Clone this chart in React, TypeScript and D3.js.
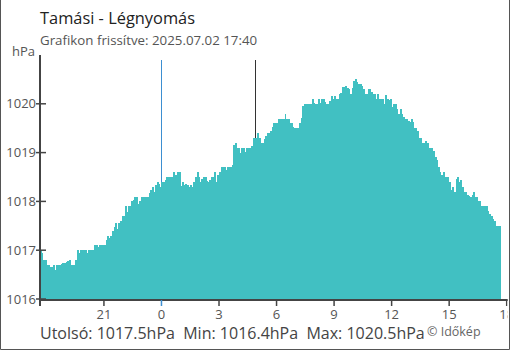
import React from "react";
import * as d3 from "d3";

const WIDTH = 510;
const HEIGHT = 350;
const MARGIN = { left: 40, top: 55, right: 3.3, bottom: 51 };
const FONT = "'Open Sans', sans-serif";
const BAR_COLOR = "#41c0c2";

// 5-minute readings from 2025-07-01 17:40 to 2025-07-02 17:35
const START = "2025-07-01T17:40:00";
const END = "2025-07-02T18:00:00";
const STEP_MINUTES = 5;

const pressure = [
  1017.0, 1016.94, 1016.8, 1016.8, 1016.7, 1016.7, 1016.66, 1016.66, 1016.7, 1016.59, 1016.7, 1016.7,
  1016.7, 1016.72, 1016.74, 1016.74, 1016.76, 1016.78, 1016.8, 1016.7, 1016.7, 1016.7, 1016.8, 1017.0,
  1016.94, 1017.0, 1017.0, 1017.0, 1017.0, 1016.94, 1017.0, 1017.0, 1017.0, 1017.0, 1017.11, 1017.11,
  1017.07, 1017.11, 1017.11, 1017.11, 1017.11, 1017.21, 1017.29, 1017.26, 1017.29, 1017.39, 1017.48, 1017.56,
  1017.43, 1017.55, 1017.6, 1017.7, 1017.7, 1017.91, 1017.78, 1017.91, 1017.91, 1018.01, 1018.03, 1018.09,
  1018.09, 1017.95, 1018.01, 1018.09, 1018.09, 1018.09, 1018.09, 1018.09, 1018.17, 1018.23, 1018.3, 1018.19,
  1018.33, 1018.4, 1018.36, 1018.3, 1018.4, 1018.4, 1018.44, 1018.5, 1018.5, 1018.5, 1018.5, 1018.6,
  1018.54, 1018.54, 1018.6, 1018.6, 1018.32, 1018.4, 1018.34, 1018.36, 1018.34, 1018.3, 1018.34, 1018.3,
  1018.4, 1018.5, 1018.6, 1018.5, 1018.4, 1018.46, 1018.5, 1018.5, 1018.42, 1018.4, 1018.44, 1018.5,
  1018.5, 1018.6, 1018.4, 1018.54, 1018.6, 1018.7, 1018.7, 1018.7, 1018.64, 1018.7, 1018.7, 1018.7,
  1018.75, 1019.16, 1019.2, 1019.09, 1019.09, 1018.99, 1019.09, 1019.09, 1019.01, 1019.09, 1019.09, 1019.09,
  1019.14, 1019.3, 1019.3, 1019.3, 1019.4, 1019.3, 1019.2, 1019.2, 1019.28, 1019.34, 1019.4, 1019.4,
  1019.44, 1019.52, 1019.61, 1019.61, 1019.61, 1019.69, 1019.69, 1019.69, 1019.69, 1019.79, 1019.69, 1019.69,
  1019.61, 1019.61, 1019.52, 1019.5, 1019.5, 1019.5, 1019.61, 1019.71, 1019.95, 1020.0, 1020.0, 1020.0,
  1020.0, 1020.0, 1020.1, 1020.02, 1020.0, 1020.0, 1020.1, 1020.02, 1020.1, 1020.1, 1020.04, 1020.0,
  1020.0, 1020.06, 1020.16, 1020.1, 1020.16, 1020.1, 1020.1, 1020.2, 1020.22, 1020.34, 1020.34, 1020.36,
  1020.32, 1020.3, 1020.2, 1020.32, 1020.47, 1020.51, 1020.45, 1020.41, 1020.41, 1020.36, 1020.3, 1020.2,
  1020.2, 1020.3, 1020.3, 1020.24, 1020.2, 1020.2, 1020.1, 1020.2, 1020.1, 1020.1, 1020.1, 1020.0,
  1020.18, 1020.1, 1020.08, 1020.1, 1019.93, 1020.0, 1020.0, 1019.89, 1019.79, 1019.89, 1019.79, 1019.73,
  1019.69, 1019.69, 1019.65, 1019.63, 1019.69, 1019.63, 1019.5, 1019.5, 1019.44, 1019.3, 1019.3, 1019.2,
  1019.2, 1019.24, 1019.2, 1019.09, 1019.09, 1019.09, 1019.03, 1018.91, 1018.85, 1018.7, 1018.6, 1018.54,
  1018.6, 1018.5, 1018.5, 1018.5, 1018.4, 1018.23, 1018.3, 1018.19, 1018.46, 1018.5, 1018.4, 1018.44,
  1018.3, 1018.19, 1018.19, 1018.13, 1018.11, 1018.09, 1018.13, 1018.19, 1018.09, 1018.09, 1018.01, 1018.01,
  1017.91, 1017.91, 1017.91, 1017.91, 1017.8, 1017.74, 1017.7, 1017.64, 1017.6, 1017.5, 1017.5, 1017.5,
];

const yTicks = [1016, 1017, 1018, 1019, 1020];
const xTickTimes = [
  "2025-07-01T21:00:00",
  "2025-07-02T00:00:00",
  "2025-07-02T03:00:00",
  "2025-07-02T06:00:00",
  "2025-07-02T09:00:00",
  "2025-07-02T12:00:00",
  "2025-07-02T15:00:00",
  "2025-07-02T18:00:00",
];
// midnight and sunrise
const markerTimes = ["2025-07-02T00:00:00", "2025-07-02T04:53:00"];
const markerColors = ["#3d8fd1", "#333"];

const title = "Tamási - Légnyomás";
const subtitle = "Grafikon frissítve: 2025.07.02 17:40";
const unit = "hPa";
const stats = "Utolsó: 1017.5hPa  Min: 1016.4hPa  Max: 1020.5hPa";
const credit = "© Időkép";

export default function App() {
  const start = new Date(START);
  const data = pressure.map((v, i) => ({
    t: d3.timeMinute.offset(start, i * STEP_MINUTES),
    v,
  }));

  const x = d3
    .scaleTime()
    .domain([start, new Date(END)])
    .range([MARGIN.left, WIDTH - MARGIN.right]);

  const y = d3
    .scaleLinear()
    .domain([1016, 1021])
    .range([HEIGHT - MARGIN.bottom, MARGIN.top]);

  const baseY = y(1016) + 1;
  const fmt = d3.timeFormat("%-H");

  return (
    <svg
      width={WIDTH}
      height={HEIGHT}
      style={{ position: "absolute", left: 0, top: 0, fontFamily: FONT }}
    >
      <defs>
        <clipPath id="frame">
          <rect x={0} y={0} width={507.5} height={HEIGHT} />
        </clipPath>
      </defs>
      <rect width={WIDTH} height={HEIGHT} fill="#fff" />

      {/* border */}
      <path
        d={`M0.5,0 V${HEIGHT - 0.5} H${WIDTH - 0.5} V0`}
        fill="none"
        stroke="#555"
        strokeWidth={1}
      />

      <text x={40} y={24} fontSize={16.4} fill="#222">
        {title}
      </text>
      <text x={40} y={45} fontSize={13.3} fill="#555">
        {subtitle}
      </text>
      <text x={35} y={56} fontSize={13} fill="#555" textAnchor="end">
        {unit}
      </text>

      {/* marker lines, behind the bars */}
      {markerTimes.map((m, i) => (
        <line
          key={m}
          x1={Math.round(x(new Date(m))) + 0.5}
          x2={Math.round(x(new Date(m))) + 0.5}
          y1={60}
          y2={baseY}
          stroke={markerColors[i]}
          strokeWidth={1}
        />
      ))}

      {/* bars */}
      <g fill={BAR_COLOR} shapeRendering="crispEdges">
        {data.map((d, i) => {
          const x0 = x(d.t);
          const x1 = x(d3.timeMinute.offset(d.t, STEP_MINUTES));
          return (
            <rect
              key={i}
              x={x0}
              width={x1 - x0 + 0.3}
              y={y(d.v)}
              height={baseY - y(d.v)}
            />
          );
        })}
      </g>

      {/* y axis */}
      <line x1={40} x2={40} y1={MARGIN.top} y2={baseY + 1} stroke="#444" strokeWidth={2} />
      {yTicks.map((t) => (
        <g key={t}>
          <line x1={36} x2={46} y1={y(t)} y2={y(t)} stroke="#444" strokeWidth={1.5} />
          <text
            x={36}
            y={y(t) + 4.5}
            fontSize={13}
            fill="#555"
            textAnchor="end"
          >
            {t}
          </text>
        </g>
      ))}

      {/* x axis */}
      <line x1={39} x2={x(new Date(END)) + 1} y1={baseY} y2={baseY} stroke="#444" strokeWidth={2} />
      <line x1={40} x2={40} y1={baseY} y2={baseY + 6} stroke="#444" strokeWidth={2} />
      <g clipPath="url(#frame)">
        {xTickTimes.map((s) => {
          const t = new Date(s);
          const px = x(t);
          const isMidnight = t.getHours() === 0;
          return (
            <g key={s}>
              <line
                x1={px}
                x2={px}
                y1={baseY}
                y2={baseY + 6}
                stroke={isMidnight ? markerColors[0] : "#444"}
                strokeWidth={1.5}
              />
              <text x={px} y={319} fontSize={13} fill="#555" textAnchor="middle">
                {fmt(t)}
              </text>
            </g>
          );
        })}
      </g>

      <text x={40} y={339} fontSize={16} fill="#444" style={{ whiteSpace: "pre" }}>
        {stats}
      </text>
      <text x={427} y={336} fontSize={12.5} fill="#666">
        {credit}
      </text>
    </svg>
  );
}
